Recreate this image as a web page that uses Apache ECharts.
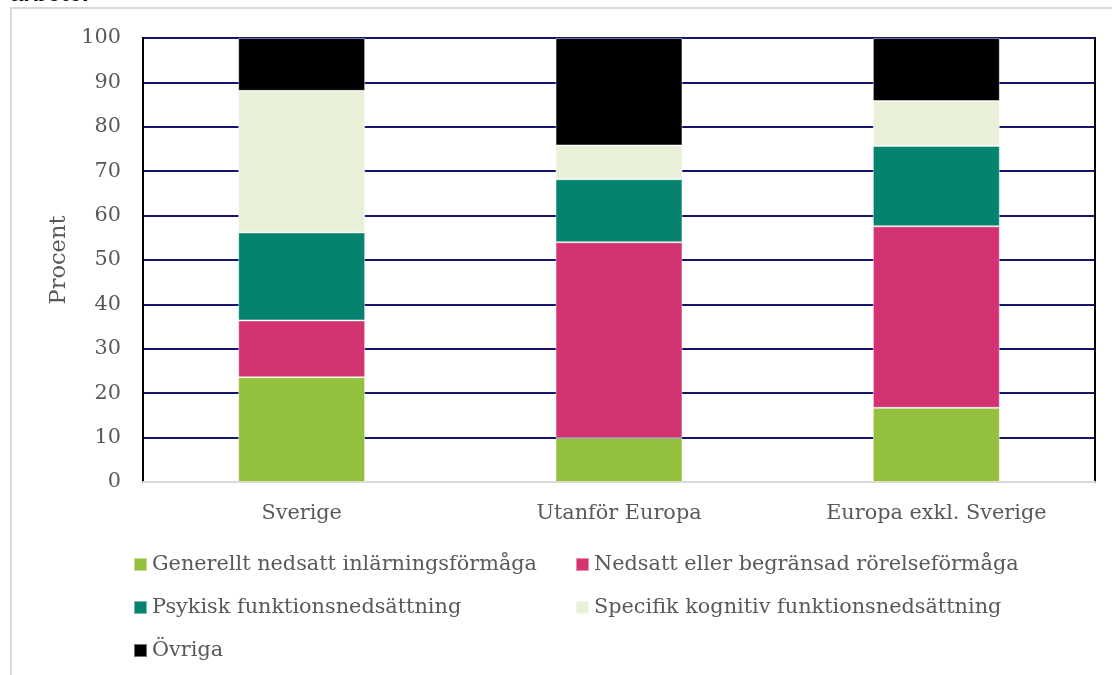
<!DOCTYPE html>
<html>
<head>
<meta charset="utf-8">
<script src="https://cdn.jsdelivr.net/npm/echarts@6/dist/echarts.min.js"></script>
<style>
  html, body { margin: 0; padding: 0; background: #fff; }
  #chart { width: 1112px; height: 675px; }
</style>
</head>
<body>
<div id="chart"></div>
<script>
// Origin groups on the x axis
const categories = ['Sverige', 'Utanför Europa', 'Europa exkl. Sverige'];

// Share (percent) of each type of functional impairment per origin group
const generellt = [23.6, 9.9, 16.7];
const rorelse = [12.8, 44.1, 40.9];
const psykisk = [19.8, 14.2, 18.1];
const specifik = [31.9, 7.6, 10.1];
const ovriga = [11.9, 24.2, 14.2];

const seriesNames = [
  'Generellt nedsatt inlärningsförmåga',
  'Nedsatt eller begränsad rörelseförmåga',
  'Psykisk funktionsnedsättning',
  'Specifik kognitiv funktionsnedsättning',
  'Övriga'
];
const seriesData = [generellt, rorelse, psykisk, specifik, ovriga];
const colors = ['#93C13E', '#D33471', '#06836F', '#E8F1D8', '#000000'];

const yTicks = [0, 10, 20, 30, 40, 50, 60, 70, 80, 90, 100];

const FONT = 'DejaVu Serif';
const TEXT = '#595959';
const FS = 20.8;

// Legend laid out in two columns, three rows
const legendSlots = [
  { left: 128, top: 549 },
  { left: 570, top: 549 },
  { left: 128, top: 592 },
  { left: 570, top: 592 },
  { left: 128, top: 635 }
];

const chart = echarts.init(document.getElementById('chart'));
chart.setOption({
  animation: false,
  color: colors,
  graphic: [
    {
      type: 'rect',
      shape: { x: 11, y: 8, width: 1200, height: 800 },
      style: { fill: 'none', stroke: '#d9d9d9', lineWidth: 2 },
      silent: true
    },
    {
      type: 'text',
      left: 10,
      top: -18,
      style: {
        text: 'arbete.',
        font: 'bold 24px "Liberation Sans", Arial, sans-serif',
        fill: '#000'
      }
    }
  ],
  grid: {
    left: 143,
    right: 17,
    top: 38,
    bottom: 193,
    show: true,
    borderColor: '#000',
    borderWidth: 2,
    backgroundColor: 'transparent'
  },
  legend: seriesNames.map((name, i) => ({
    data: [name],
    left: legendSlots[i].left,
    top: legendSlots[i].top,
    icon: 'rect',
    itemWidth: 13,
    itemHeight: 13,
    selectedMode: false,
    textStyle: { fontFamily: FONT, fontSize: FS, color: TEXT }
  })),
  xAxis: {
    type: 'category',
    data: categories,
    axisLine: { show: true, lineStyle: { color: '#d9d9d9', width: 2 } },
    axisTick: { show: false },
    axisLabel: { margin: 21, fontFamily: FONT, fontSize: FS, color: TEXT }
  },
  yAxis: {
    type: 'value',
    min: yTicks[0],
    max: yTicks[yTicks.length - 1],
    interval: yTicks[1] - yTicks[0],
    name: 'Procent',
    nameLocation: 'middle',
    nameGap: 71,
    nameTextStyle: { fontFamily: FONT, fontSize: 22.5, color: TEXT },
    axisLine: { show: true, lineStyle: { color: '#000', width: 2 } },
    axisTick: { show: false },
    axisLabel: { margin: 22, fontFamily: FONT, fontSize: FS, color: TEXT },
    splitLine: { show: true, lineStyle: { color: '#15156e', width: 2 } }
  },
  series: seriesNames.map((name, i) => ({
    name: name,
    type: 'bar',
    stack: 'total',
    barWidth: '40%',
    data: seriesData[i],
    itemStyle: {
      color: colors[i],
      borderColor: 'rgba(255,255,255,0.45)',
      borderWidth: 1
    }
  }))
});
</script>
</body>
</html>
